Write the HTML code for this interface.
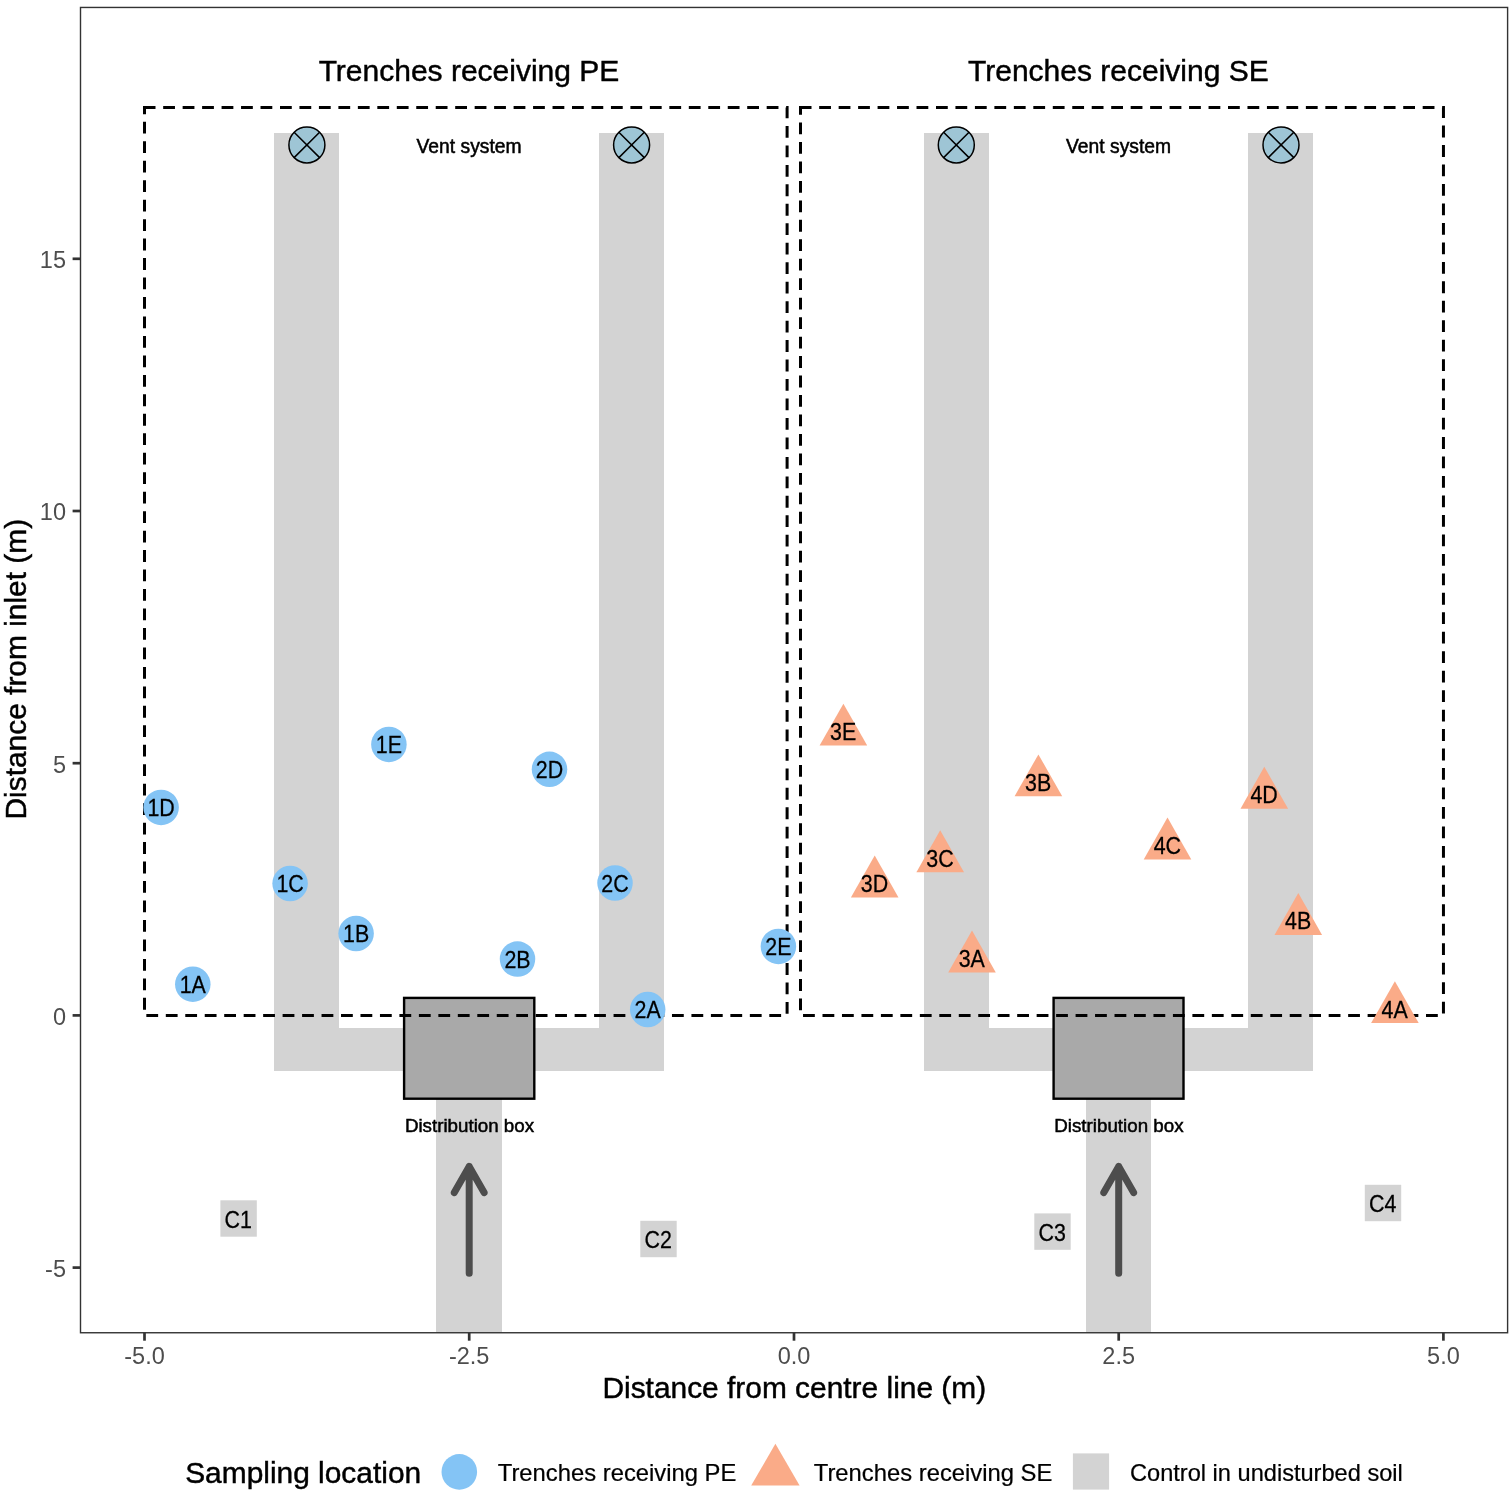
<!DOCTYPE html>
<html lang="en"><head><meta charset="utf-8"><title>Sampling layout</title>
<style>html,body{margin:0;padding:0;background:#fff}svg{display:block}text{font-family:"Liberation Sans",Arial,sans-serif}</style></head><body>
<svg width="1510" height="1496" viewBox="0 0 1510 1496">
<rect width="1510" height="1496" fill="#fff"/>
<defs><clipPath id="pc"><rect x="80.5" y="7.45" width="1427.1" height="1325.35"/></clipPath></defs>
<g clip-path="url(#pc)">
<rect x="274" y="133" width="65" height="938" fill="#D3D3D3"/>
<rect x="599" y="133" width="65" height="938" fill="#D3D3D3"/>
<rect x="924" y="133" width="65" height="938" fill="#D3D3D3"/>
<rect x="1248" y="133" width="65" height="938" fill="#D3D3D3"/>
<rect x="274" y="1028" width="390" height="43" fill="#D3D3D3"/>
<rect x="924" y="1028" width="389" height="43" fill="#D3D3D3"/>
<rect x="436" y="1098" width="66" height="242" fill="#D3D3D3"/>
<rect x="1086" y="1098" width="65" height="242" fill="#D3D3D3"/>
<rect x="404.1" y="997.9" width="130.2" height="100.8" fill="#A9A9A9" stroke="#000" stroke-width="2.4"/>
<rect x="1053.6" y="997.9" width="129.9" height="100.8" fill="#A9A9A9" stroke="#000" stroke-width="2.4"/>
<path d="M144.50 107.45H787.10V1015.50H144.50Z" fill="none" stroke="#000" stroke-width="3.0" stroke-dasharray="11.8 7.668" stroke-dashoffset="0.8" stroke-linejoin="miter"/>
<path d="M800.50 107.45H1443.45V1015.50H800.50Z" fill="none" stroke="#000" stroke-width="3.0" stroke-dasharray="11.8 7.668" stroke-dashoffset="0.8" stroke-linejoin="miter"/>
<circle cx="306.9" cy="144.9" r="18.0" fill="#9EC5D5" stroke="#000" stroke-width="1.5"/>
<path d="M294.1 132.2L319.6 157.6M294.1 157.6L319.6 132.2" stroke="#000" stroke-width="1.5" fill="none"/>
<circle cx="631.6" cy="144.9" r="18.0" fill="#9EC5D5" stroke="#000" stroke-width="1.5"/>
<path d="M618.9 132.2L644.3 157.6M618.9 157.6L644.3 132.2" stroke="#000" stroke-width="1.5" fill="none"/>
<circle cx="956.3" cy="144.9" r="18.0" fill="#9EC5D5" stroke="#000" stroke-width="1.5"/>
<path d="M943.6 132.2L969.0 157.6M943.6 157.6L969.0 132.2" stroke="#000" stroke-width="1.5" fill="none"/>
<circle cx="1281.0" cy="144.9" r="18.0" fill="#9EC5D5" stroke="#000" stroke-width="1.5"/>
<path d="M1268.3 132.2L1293.8 157.6M1268.3 157.6L1293.8 132.2" stroke="#000" stroke-width="1.5" fill="none"/>
<path d="M469.2 1273.3V1166.4M454.3 1192.6L469.2 1166.4L484.1 1192.6" fill="none" stroke="#4D4D4D" stroke-width="7" stroke-linecap="round" stroke-linejoin="round"/>
<path d="M1118.7 1273.3V1166.4M1103.8 1192.6L1118.7 1166.4L1133.6 1192.6" fill="none" stroke="#4D4D4D" stroke-width="7" stroke-linecap="round" stroke-linejoin="round"/>
<text x="469.0" y="80.6" font-size="30.0" text-anchor="middle" fill="#000" stroke="#000" stroke-width="0.45">Trenches receiving PE</text>
<text x="469.1" y="153.0" font-size="19.3" text-anchor="middle" fill="#000" stroke="#000" stroke-width="0.5">Vent system</text>
<text x="469.5" y="1131.5" font-size="18.75" text-anchor="middle" fill="#000" stroke="#000" stroke-width="0.5">Distribution box</text>
<text x="1118.4" y="80.6" font-size="30.0" text-anchor="middle" fill="#000" stroke="#000" stroke-width="0.45">Trenches receiving SE</text>
<text x="1118.6" y="153.0" font-size="19.3" text-anchor="middle" fill="#000" stroke="#000" stroke-width="0.5">Vent system</text>
<text x="1118.9" y="1131.5" font-size="18.75" text-anchor="middle" fill="#000" stroke="#000" stroke-width="0.5">Distribution box</text>
<circle cx="192.8" cy="984.2" r="17.75" fill="#84C4F5"/>
<circle cx="356.1" cy="933.5" r="17.75" fill="#84C4F5"/>
<circle cx="290.1" cy="883.5" r="17.75" fill="#84C4F5"/>
<circle cx="161.1" cy="807.4" r="17.75" fill="#84C4F5"/>
<circle cx="388.9" cy="744.4" r="17.75" fill="#84C4F5"/>
<circle cx="647.7" cy="1009.5" r="17.75" fill="#84C4F5"/>
<circle cx="517.5" cy="959.1" r="17.75" fill="#84C4F5"/>
<circle cx="615.0" cy="883.0" r="17.75" fill="#84C4F5"/>
<circle cx="549.5" cy="769.3" r="17.75" fill="#84C4F5"/>
<circle cx="778.4" cy="946.4" r="17.75" fill="#84C4F5"/>
<path d="M972.0 930.5L995.8 972.4H948.2Z" fill="#FAAB88"/>
<path d="M1038.4 754.4L1062.2 796.3H1014.6Z" fill="#FAAB88"/>
<path d="M940.2 830.3L964.0 872.2H916.4Z" fill="#FAAB88"/>
<path d="M874.7 855.5L898.5 897.4H850.9Z" fill="#FAAB88"/>
<path d="M843.4 703.7L867.2 745.6H819.6Z" fill="#FAAB88"/>
<path d="M1394.9 981.2L1418.7 1023.1H1371.1Z" fill="#FAAB88"/>
<path d="M1298.3 893.1L1322.1 935.0H1274.5Z" fill="#FAAB88"/>
<path d="M1167.5 817.6L1191.3 859.5H1143.7Z" fill="#FAAB88"/>
<path d="M1264.3 766.8L1288.1 808.7H1240.5Z" fill="#FAAB88"/>
<rect x="220.4" y="1200.3" width="36.4" height="36.4" fill="#D3D3D3"/>
<rect x="640.3" y="1220.8" width="36.4" height="36.4" fill="#D3D3D3"/>
<rect x="1034.3" y="1213.4" width="36.4" height="36.4" fill="#D3D3D3"/>
<rect x="1364.8" y="1184.8" width="36.4" height="36.4" fill="#D3D3D3"/>
<text transform="translate(192.8 992.7) scale(1 1.09)" font-size="21.4" text-anchor="middle" fill="#000" stroke="#000" stroke-width="0.25">1A</text>
<text transform="translate(356.1 942.0) scale(1 1.09)" font-size="21.4" text-anchor="middle" fill="#000" stroke="#000" stroke-width="0.25">1B</text>
<text transform="translate(290.1 892.0) scale(1 1.09)" font-size="21.4" text-anchor="middle" fill="#000" stroke="#000" stroke-width="0.25">1C</text>
<text transform="translate(161.1 815.9) scale(1 1.09)" font-size="21.4" text-anchor="middle" fill="#000" stroke="#000" stroke-width="0.25">1D</text>
<text transform="translate(388.9 752.9) scale(1 1.09)" font-size="21.4" text-anchor="middle" fill="#000" stroke="#000" stroke-width="0.25">1E</text>
<text transform="translate(647.7 1018.0) scale(1 1.09)" font-size="21.4" text-anchor="middle" fill="#000" stroke="#000" stroke-width="0.25">2A</text>
<text transform="translate(517.5 967.6) scale(1 1.09)" font-size="21.4" text-anchor="middle" fill="#000" stroke="#000" stroke-width="0.25">2B</text>
<text transform="translate(615.0 891.5) scale(1 1.09)" font-size="21.4" text-anchor="middle" fill="#000" stroke="#000" stroke-width="0.25">2C</text>
<text transform="translate(549.5 777.8) scale(1 1.09)" font-size="21.4" text-anchor="middle" fill="#000" stroke="#000" stroke-width="0.25">2D</text>
<text transform="translate(778.4 954.9) scale(1 1.09)" font-size="21.4" text-anchor="middle" fill="#000" stroke="#000" stroke-width="0.25">2E</text>
<text transform="translate(971.8 966.8) scale(1 1.09)" font-size="21.4" text-anchor="middle" fill="#000" stroke="#000" stroke-width="0.25">3A</text>
<text transform="translate(1038.2 790.7) scale(1 1.09)" font-size="21.4" text-anchor="middle" fill="#000" stroke="#000" stroke-width="0.25">3B</text>
<text transform="translate(940.0 866.6) scale(1 1.09)" font-size="21.4" text-anchor="middle" fill="#000" stroke="#000" stroke-width="0.25">3C</text>
<text transform="translate(874.5 891.8) scale(1 1.09)" font-size="21.4" text-anchor="middle" fill="#000" stroke="#000" stroke-width="0.25">3D</text>
<text transform="translate(843.2 740.0) scale(1 1.09)" font-size="21.4" text-anchor="middle" fill="#000" stroke="#000" stroke-width="0.25">3E</text>
<text transform="translate(1394.7 1017.5) scale(1 1.09)" font-size="21.4" text-anchor="middle" fill="#000" stroke="#000" stroke-width="0.25">4A</text>
<text transform="translate(1298.1 929.4) scale(1 1.09)" font-size="21.4" text-anchor="middle" fill="#000" stroke="#000" stroke-width="0.25">4B</text>
<text transform="translate(1167.3 853.9) scale(1 1.09)" font-size="21.4" text-anchor="middle" fill="#000" stroke="#000" stroke-width="0.25">4C</text>
<text transform="translate(1264.1 803.1) scale(1 1.09)" font-size="21.4" text-anchor="middle" fill="#000" stroke="#000" stroke-width="0.25">4D</text>
<text transform="translate(238.2 1227.5) scale(1 1.09)" font-size="21.4" text-anchor="middle" fill="#000" stroke="#000" stroke-width="0.25">C1</text>
<text transform="translate(658.1 1248.0) scale(1 1.09)" font-size="21.4" text-anchor="middle" fill="#000" stroke="#000" stroke-width="0.25">C2</text>
<text transform="translate(1052.1 1240.6) scale(1 1.09)" font-size="21.4" text-anchor="middle" fill="#000" stroke="#000" stroke-width="0.25">C3</text>
<text transform="translate(1382.6 1212.0) scale(1 1.09)" font-size="21.4" text-anchor="middle" fill="#000" stroke="#000" stroke-width="0.25">C4</text>
</g>
<rect x="80.5" y="7.45" width="1427.1" height="1325.3" fill="none" stroke="#333" stroke-width="1.4"/>
<path d="M144.5 1332.8V1340.7" stroke="#333" stroke-width="2.7"/>
<text x="144.5" y="1364.1" font-size="23.5" text-anchor="middle" fill="#4D4D4D" stroke="#4D4D4D" stroke-width="0">-5.0</text>
<path d="M469.2 1332.8V1340.7" stroke="#333" stroke-width="2.7"/>
<text x="469.2" y="1364.1" font-size="23.5" text-anchor="middle" fill="#4D4D4D" stroke="#4D4D4D" stroke-width="0">-2.5</text>
<path d="M794.0 1332.8V1340.7" stroke="#333" stroke-width="2.7"/>
<text x="794.0" y="1364.1" font-size="23.5" text-anchor="middle" fill="#4D4D4D" stroke="#4D4D4D" stroke-width="0">0.0</text>
<path d="M1118.7 1332.8V1340.7" stroke="#333" stroke-width="2.7"/>
<text x="1118.7" y="1364.1" font-size="23.5" text-anchor="middle" fill="#4D4D4D" stroke="#4D4D4D" stroke-width="0">2.5</text>
<path d="M1443.4 1332.8V1340.7" stroke="#333" stroke-width="2.7"/>
<text x="1443.4" y="1364.1" font-size="23.5" text-anchor="middle" fill="#4D4D4D" stroke="#4D4D4D" stroke-width="0">5.0</text>
<path d="M80.5 1267.6H72.6" stroke="#333" stroke-width="2.7"/>
<text x="66.0" y="1276.9" font-size="23.5" text-anchor="end" fill="#4D4D4D" stroke="#4D4D4D" stroke-width="0">-5</text>
<path d="M80.5 1015.4H72.6" stroke="#333" stroke-width="2.7"/>
<text x="66.0" y="1024.7" font-size="23.5" text-anchor="end" fill="#4D4D4D" stroke="#4D4D4D" stroke-width="0">0</text>
<path d="M80.5 763.2H72.6" stroke="#333" stroke-width="2.7"/>
<text x="66.0" y="772.5" font-size="23.5" text-anchor="end" fill="#4D4D4D" stroke="#4D4D4D" stroke-width="0">5</text>
<path d="M80.5 511.0H72.6" stroke="#333" stroke-width="2.7"/>
<text x="66.0" y="520.3" font-size="23.5" text-anchor="end" fill="#4D4D4D" stroke="#4D4D4D" stroke-width="0">10</text>
<path d="M80.5 258.8H72.6" stroke="#333" stroke-width="2.7"/>
<text x="66.0" y="268.1" font-size="23.5" text-anchor="end" fill="#4D4D4D" stroke="#4D4D4D" stroke-width="0">15</text>
<text x="794.3" y="1397.9" font-size="29.9" text-anchor="middle" fill="#000" stroke="#000" stroke-width="0.45">Distance from centre line (m)</text>
<text transform="translate(26.3 669.2) rotate(-90)" font-size="29.9" text-anchor="middle" fill="#000" stroke="#000" stroke-width="0.45">Distance from inlet (m)</text>
<text x="185.2" y="1483.0" font-size="29.9" text-anchor="start" fill="#000" stroke="#000" stroke-width="0.45">Sampling location</text>
<circle cx="459.3" cy="1471.9" r="17.8" fill="#84C4F5"/>
<text x="497.8" y="1481.0" font-size="23.8" text-anchor="start" fill="#000" stroke="#000" stroke-width="0.22">Trenches receiving PE</text>
<path d="M775.4 1443.8L799.6 1485.6H751.2Z" fill="#FAAB88"/>
<text x="813.8" y="1481.0" font-size="23.8" text-anchor="start" fill="#000" stroke="#000" stroke-width="0.22">Trenches receiving SE</text>
<rect x="1072.9" y="1453.4" width="36.2" height="36.2" fill="#D3D3D3"/>
<text x="1130.0" y="1481.0" font-size="23.6" text-anchor="start" fill="#000" stroke="#000" stroke-width="0.22">Control in undisturbed soil</text>
</svg></body></html>
